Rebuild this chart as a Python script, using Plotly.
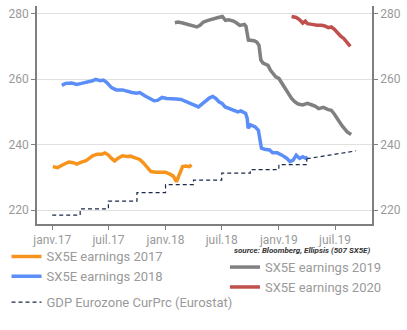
import plotly.graph_objects as go

# ---------------- data ----------------
d2017 = ["2017-01-03","2017-01-18","2017-02-03","2017-02-23","2017-03-10","2017-03-21","2017-04-05",
         "2017-04-20","2017-04-30","2017-05-11","2017-05-26","2017-06-10","2017-06-20","2017-07-01",
         "2017-07-11","2017-07-21","2017-07-31","2017-08-15","2017-08-31","2017-09-10","2017-09-25",
         "2017-10-10","2017-10-21","2017-11-05","2017-11-15","2017-12-01","2017-12-16","2017-12-31",
         "2018-01-15","2018-01-26","2018-02-05","2018-02-15","2018-02-25","2018-03-07","2018-03-18",
         "2018-03-26"]
v2017 = [233.3,233.0,233.8,234.7,234.5,234.1,234.7,235.1,235.8,236.6,237.1,237.1,237.5,236.8,
         235.8,235.0,235.8,236.6,236.4,236.5,236.0,235.5,234.5,233.1,231.8,231.6,231.7,231.6,
         231.0,230.4,228.7,231.3,233.3,233.5,233.3,233.8]

d2018 = ["2017-02-01","2017-02-13","2017-03-05","2017-03-21","2017-04-05","2017-04-25","2017-05-11",
         "2017-05-21","2017-06-05","2017-06-15","2017-06-25","2017-07-11","2017-07-26","2017-08-15",
         "2017-08-31","2017-09-15","2017-09-30","2017-10-10","2017-10-26","2017-11-10","2017-11-25",
         "2017-12-06","2017-12-21","2018-01-05","2018-01-21","2018-02-05","2018-02-20","2018-03-08",
         "2018-03-23","2018-04-07","2018-04-17","2018-04-27","2018-05-13","2018-05-23","2018-06-02",
         "2018-06-12","2018-06-22","2018-07-02","2018-07-12","2018-07-27","2018-08-11","2018-08-22",
         "2018-09-01","2018-09-16","2018-09-21","2018-09-24","2018-10-02","2018-10-17","2018-10-27",
         "2018-11-06","2018-11-16","2018-12-02","2018-12-12","2018-12-27","2019-01-11","2019-01-27",
         "2019-02-06","2019-02-16","2019-02-26","2019-03-09","2019-03-19","2019-03-29","2019-04-03"]
v2018 = [258.1,258.7,258.8,258.4,258.7,259.0,259.5,259.9,259.5,259.7,259.0,257.4,256.7,256.7,
         256.2,255.9,255.7,255.9,254.9,254.1,253.4,253.5,254.4,254.1,254.1,253.9,253.8,253.1,
         252.3,251.8,251.5,252.3,253.5,254.3,254.7,254.1,253.1,252.6,251.5,251.0,250.5,250.0,
         250.3,249.5,248.0,245.0,246.0,245.4,244.4,238.9,238.6,238.4,237.5,237.5,236.8,235.8,
         234.8,235.3,236.8,235.8,236.3,235.8,236.3]

d2019 = ["2018-01-31","2018-02-10","2018-02-25","2018-03-12","2018-03-28","2018-04-12","2018-04-22",
         "2018-05-03","2018-05-18","2018-06-02","2018-06-17","2018-07-03","2018-07-08","2018-07-13",
         "2018-07-23","2018-08-08","2018-08-18","2018-08-28","2018-09-12","2018-09-17","2018-09-22",
         "2018-09-25","2018-10-13","2018-10-22","2018-10-29","2018-11-04","2018-11-11","2018-11-27",
         "2018-12-05","2018-12-12","2018-12-22","2019-01-01","2019-01-11","2019-01-22","2019-02-01",
         "2019-02-11","2019-02-21","2019-03-04","2019-03-19","2019-04-03","2019-04-18","2019-04-29",
         "2019-05-09","2019-05-24","2019-06-09","2019-06-19","2019-06-29","2019-07-09","2019-07-24",
         "2019-08-09","2019-08-22"]
v2019 = [277.2,277.4,277.1,276.7,276.1,275.9,276.4,277.4,277.9,278.4,278.7,279.1,278.4,277.9,
         278.1,277.7,277.1,276.4,276.7,276.1,273.4,271.9,271.7,271.3,270.3,265.8,264.9,264.2,
         262.7,261.7,260.7,260.2,258.7,257.1,255.6,254.1,253.1,252.4,252.1,252.6,252.1,251.7,
         251.0,251.4,250.7,250.5,249.3,247.8,245.7,243.9,243.1]

d2020 = ["2019-02-11","2019-02-26","2019-03-09","2019-03-19","2019-03-27","2019-04-03","2019-04-18",
         "2019-05-04","2019-05-19","2019-05-29","2019-06-09","2019-06-19","2019-06-29","2019-07-09",
         "2019-07-19","2019-07-29","2019-08-07","2019-08-14","2019-08-19"]
v2020 = [279.1,278.8,278.1,277.1,277.7,276.9,276.7,276.4,276.4,276.2,275.7,275.9,275.2,274.1,
         273.1,272.4,271.3,270.5,270.0]

gdp_dates = ["2017-01-01","2017-04-01","2017-07-01","2017-10-01","2018-01-01","2018-04-01",
             "2018-07-01","2018-10-01","2019-01-01","2019-04-01"]
gdp_vals = [218.5,220.4,222.8,225.4,227.8,229.2,231.3,232.4,233.9,235.7]
gdp_fc_dates = ["2019-04-01","2019-09-06"]
gdp_fc_vals = [235.7,238.1]

tick_dates = ["2017-01-01","2017-07-01","2018-01-01","2018-07-01","2019-01-01","2019-07-01"]
tick_text = ["janv.17","juil.17","janv.18","juil.18","janv.19","juil.19"]
y_ticks = [220,240,260,280]

# ---------------- figure ----------------
FONT = "Liberation Sans Narrow, Arial Narrow, Roboto, Liberation Sans, sans-serif"
GRAY_TXT = "#9a9a9a"
AX = "#7f7f7f"
W = 3.5

fig = go.Figure()
fig.add_trace(go.Scatter(x=d2017, y=v2017, name="SX5E earnings 2017", mode="lines",
                         line=dict(color="#F7941D", width=W), legend="legend", legendgroup="a"))
fig.add_trace(go.Scatter(x=d2018, y=v2018, name="SX5E earnings 2018", mode="lines",
                         line=dict(color="#5B8EF8", width=W), legend="legend", legendgroup="a"))
fig.add_trace(go.Scatter(x=gdp_dates, y=gdp_vals, name="GDP Eurozone CurPrc (Eurostat)", mode="lines",
                         line=dict(color="#1B2A48", width=1.2, dash="4px,3px", shape="hv"),
                         legend="legend", legendgroup="b"))
fig.add_trace(go.Scatter(x=gdp_fc_dates, y=gdp_fc_vals, mode="lines", showlegend=False,
                         line=dict(color="#1B2A48", width=1.2, dash="4px,3px"), yaxis="y2"))
fig.add_trace(go.Scatter(x=d2019, y=v2019, name="SX5E earnings 2019", mode="lines",
                         line=dict(color="#808080", width=W), legend="legend2"))
fig.add_trace(go.Scatter(x=d2020, y=v2020, name="SX5E earnings 2020", mode="lines",
                         line=dict(color="#C0504D", width=W), legend="legend2"))

yr = [215.8, 282.3]
axis_common = dict(range=yr, tickvals=y_ticks, ticks="outside", ticklen=4, tickcolor=AX,
                   showline=True, linecolor=AX, linewidth=1.5, zeroline=False,
                   tickfont=dict(family=FONT, size=12, color=GRAY_TXT))

fig.update_layout(
    width=407, height=330,
    margin=dict(l=30, r=24, t=6, b=106),
    paper_bgcolor="white", plot_bgcolor="white",
    showlegend=True,
    font=dict(family=FONT, color=GRAY_TXT),
    xaxis=dict(type="date", range=["2016-11-13", "2019-10-28"], tickvals=tick_dates, ticktext=tick_text,
               ticks="outside", ticklen=4, tickcolor=AX, showline=True, linecolor=AX, linewidth=1.5,
               showgrid=False, zeroline=False,
               tickfont=dict(family=FONT, size=12, color=GRAY_TXT)),
    yaxis=dict(**axis_common, showgrid=True, gridcolor="#e0e0e0", gridwidth=1, side="left"),
    yaxis2=dict(**axis_common, showgrid=False, overlaying="y", side="right"),
    legend=dict(x=-0.091, y=-0.08, xanchor="left", yanchor="top", bgcolor="rgba(0,0,0,0)",
                font=dict(family=FONT, size=13, color=GRAY_TXT), tracegroupgap=6,
                itemwidth=30, traceorder="grouped"),
    legend2=dict(x=0.561, y=-0.129, xanchor="left", yanchor="top", bgcolor="rgba(0,0,0,0)",
                 font=dict(family=FONT, size=13, color=GRAY_TXT), itemwidth=30),
    annotations=[dict(text="<i><b>source: Bloomberg, Ellipsis (507 SX5E)</b></i>", xref="paper", yref="paper",
                      x=1.0, y=-0.122, xanchor="right", yanchor="middle", showarrow=False,
                      font=dict(family=FONT, size=8, color="#333333"))],
)

fig.write_html("out.html")
